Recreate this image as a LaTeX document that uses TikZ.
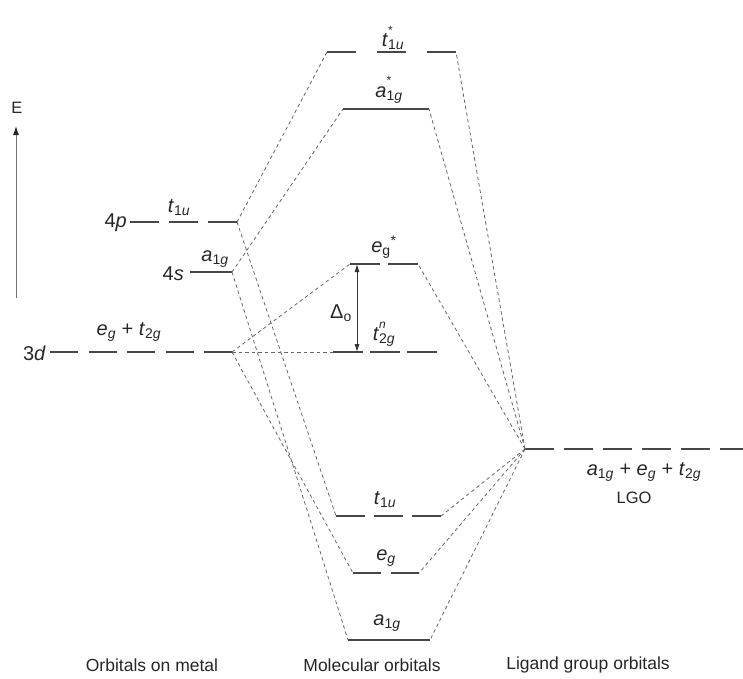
\documentclass[tikz,border=0pt]{standalone}
\usepackage{fontspec}
\setmainfont{Liberation Sans}
\usetikzlibrary{arrows.meta, positioning}

\newcommand{\orb}[2]{\textit{#1}\textsubscript{#2}}
\newcommand{\orbup}[3]{\textit{#1}\rlap{\raisebox{0.62em}{\fontsize{12}{12}\selectfont #3}}\textsubscript{#2}}

\tikzset{
  orbline/.style={line width=1.7pt, draw=black!72, line cap=butt},
  corr/.style={draw=black!60, line width=0.8pt, dash pattern=on 3.5pt off 3pt},
  orblab/.style={font=\fontsize{20}{22}\selectfont, inner sep=0pt, text=black!85},
  caption/.style={font=\fontsize{17.5}{20}\selectfont, inner sep=0pt, text=black!85},
  smallcap/.style={font=\fontsize{16.5}{19}\selectfont, inner sep=0pt, text=black!85}
}

\begin{document}
\begin{tikzpicture}[x=1pt, y=-1pt]
    \useasboundingbox (0,0) rectangle (743,678);

    % Energy axis
    \coordinate (Ebot) at (16,298);
    \coordinate (Etop) at (16,126);
    \node[smallcap] (Elab) at (17,108) {E};
    \draw[black!55, line width=0.9pt, -{Latex[length=9pt, width=6pt, color=black!85]}] (Ebot) -- (Etop);

    % Metal orbitals
    \coordinate (p4L) at (130,222);  \coordinate (p4R) at (237,222);
    \coordinate (s4L) at (190,272);  \coordinate (s4R) at (232,272);
    \coordinate (d3L) at (50,352);   \coordinate (d3R) at (232,352);
    \draw[orbline, dash pattern=on 29pt off 10pt] (p4L) -- (p4R);
    \draw[orbline] (s4L) -- (s4R);
    \draw[orbline, dash pattern=on 28pt off 10.5pt] (d3L) -- (d3R);
    \node[orblab, anchor=east] (p4name) at (127,223) {4\textit{p}};
    \node[orblab, anchor=east] (s4name) at (184,274) {4\textit{s}};
    \node[orblab, anchor=east] (d3name) at (46,353) {3\textit{d}};
    \node[orblab] (p4lab) at (179,208) {\orb{t}{1\textit{u}}};
    \node[orblab] (s4lab) at (215,259) {\orb{a}{1\textit{g}}};
    \node[orblab] (d3lab) at (129,332) {\orb{e}{\textit{g}} + \orb{t}{2\textit{g}}};

    % Molecular orbitals
    \coordinate (tusL) at (327,52);   \coordinate (tusR) at (456,52);
    \coordinate (agsL) at (343,109);  \coordinate (agsR) at (429,109);
    \coordinate (egsL) at (350,264);  \coordinate (egsR) at (418,264);
    \coordinate (tgnL) at (333,352);  \coordinate (tgnR) at (437,352);
    \coordinate (tubL) at (336,516);  \coordinate (tubR) at (441,516);
    \coordinate (egbL) at (353,573);  \coordinate (egbR) at (419,573);
    \coordinate (agbL) at (348,640);  \coordinate (agbR) at (430,640);
    \draw[orbline, dash pattern=on 29pt off 21pt] (tusL) -- (tusR);
    \draw[orbline] (agsL) -- (agsR);
    \draw[orbline, dash pattern=on 30pt off 8pt] (egsL) -- (egsR);
    \draw[orbline, dash pattern=on 30pt off 7pt] (tgnL) -- (tgnR);
    \draw[orbline, dash pattern=on 29pt off 9pt] (tubL) -- (tubR);
    \draw[orbline, dash pattern=on 28pt off 10pt] (egbL) -- (egbR);
    \draw[orbline] (agbL) -- (agbR);
    \node[orblab] (tuslab) at (393,38) {\orbup{t}{1\textit{u}}{*}};
    \node[orblab] (agslab) at (389,90) {\orbup{a}{1\textit{g}}{*}};
    \node[orblab] (egslab) at (384,247) {\orb{e}{g}\textsuperscript{*}};
    \node[orblab] (tgnlab) at (384,334) {\orbup{t}{2\textit{g}}{\textit{n}}};
    \node[orblab] (tublab) at (385,500) {\orb{t}{1\textit{u}}};
    \node[orblab] (egblab) at (386,558) {\orb{e}{\textit{g}}};
    \node[orblab] (agblab) at (387,623) {\orb{a}{1\textit{g}}};

    % Splitting
    \coordinate (gapT) at (357,264);
    \coordinate (gapB) at (357,352);
    \draw[black!80, line width=0.9pt, {Latex[length=8pt, width=5pt]}-{Latex[length=8pt, width=5pt]}] (gapT) -- (gapB);
    \node[orblab] (gaplab) at (341,313) {Δ\textsubscript{o}};

    % Ligand group orbitals
    \coordinate (lgoL) at (525,449);  \coordinate (lgoR) at (743,449);
    \draw[orbline, dash pattern=on 29pt off 10pt] (lgoL) -- (lgoR);
    \node[orblab] (lgolab) at (644,472) {\orb{a}{1\textit{g}} + \orb{e}{\textit{g}} + \orb{t}{2\textit{g}}};
    \node[smallcap] (lgoname) at (634,498) {LGO};

    % Correlation lines, metal side
    \draw[corr] (p4R) -- (tusL);
    \draw[corr] (p4R) -- (tubL);
    \draw[corr] (s4R) -- (agsL);
    \draw[corr] (s4R) -- (agbL);
    \draw[corr] (d3R) -- (egsL);
    \draw[corr] (d3R) -- (tgnL);
    \draw[corr] (d3R) -- (egbL);

    % Correlation lines, ligand side
    \draw[corr] (lgoL) -- (tusR);
    \draw[corr] (lgoL) -- (agsR);
    \draw[corr] (lgoL) -- (egsR);
    \draw[corr] (lgoL) -- (tubR);
    \draw[corr] (lgoL) -- (egbR);
    \draw[corr] (lgoL) -- (agbR);

    % Column captions
    \node[caption] (metcap) at (152,665) {Orbitals on metal};
    \node[caption] (molcap) at (372,665) {Molecular orbitals};
    \node[caption] (ligcap) at (588,665) {Ligand group orbitals};
\end{tikzpicture}
\end{document}
